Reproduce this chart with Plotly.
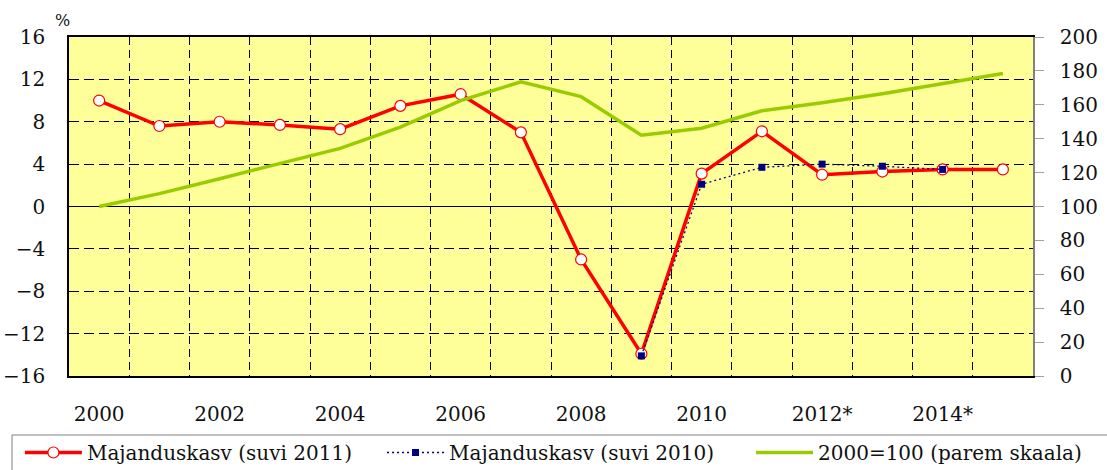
import plotly.graph_objects as go

years = list(range(2000, 2016))
growth_2011 = [10.0, 7.6, 8.0, 7.7, 7.3, 9.5, 10.6, 7.0, -5.0, -13.9, 3.1, 7.1, 3.0, 3.3, 3.5, 3.5]
growth_2010 = [None] * 9 + [-14.1, 2.1, 3.7, 4.0, 3.8, 3.5, None]
index_2000 = [100, 107.6, 116.4, 125.3, 134.3, 146.8, 162.5, 173.5, 164.8, 142.0, 146.2, 156.5, 161.2, 166.5, 172.3, 178.5]
tick_years = [2000, 2002, 2004, 2006, 2008, 2010, 2012, 2014]
tick_text = ["2000", "2002", "2004", "2006", "2008", "2010", "2012*", "2014*"]
names = ["Majanduskasv (suvi 2011)", "Majanduskasv (suvi 2010)", "2000=100 (parem skaala)"]

FONT = "DejaVu Serif"
W, H = 1107, 470

fig = go.Figure()
fig.add_trace(go.Scatter(
    x=years, y=index_2000, name=names[2], mode="lines", yaxis="y2", legend="legend3",
    line=dict(color="#99CC00", width=3.5),
))
fig.add_trace(go.Scatter(
    x=years, y=growth_2011, name=names[0], mode="lines+markers", legend="legend",
    line=dict(color="#FF0000", width=3.5),
    marker=dict(symbol="circle", size=11, color="white", line=dict(color="#FF0000", width=1.2)),
))
fig.add_trace(go.Scatter(
    x=years, y=growth_2010, name=names[1], mode="lines+markers", legend="legend2",
    line=dict(color="#000080", width=1.3, dash="2px,3px"),
    marker=dict(symbol="square", size=7, color="#000080"),
))

leg_common = dict(orientation="h", xref="container", yref="container", xanchor="left",
                  yanchor="top", y=0.0787, borderwidth=0, bgcolor="rgba(0,0,0,0)",
                  font=dict(family=FONT, size=20, color="#111111"), itemwidth=57)

fig.update_layout(
    width=W, height=H,
    margin=dict(l=69, r=74, t=37, b=94, autoexpand=False),
    paper_bgcolor="white", plot_bgcolor="#FFFF99",
    font=dict(family=FONT, size=20, color="#111111"),
    showlegend=True,
    legend=dict(x=0.0180, **leg_common),
    legend2=dict(x=0.3451, **leg_common),
    legend3=dict(x=0.6784, **leg_common),
    xaxis=dict(
        range=[1999.5, 2015.5], tickvals=tick_years, ticktext=tick_text, automargin=False,
        showgrid=False, zeroline=False, showline=True, linecolor="#000000", linewidth=1.5, mirror=True,
        ticks="", ticklabelstandoff=19,
        minor=dict(tick0=1999.5, dtick=1, showgrid=True, gridcolor="#000000", gridwidth=1, griddash="8px,5px", ticks=""),
    ),
    yaxis=dict(
        range=[-16, 16], dtick=4, tick0=0, automargin=False,
        showgrid=True, gridcolor="#000000", gridwidth=1, griddash="10px,5px",
        zeroline=True, zerolinecolor="#000000", zerolinewidth=1,
        showline=True, linecolor="#000000", linewidth=1.5, ticks="", ticklabelstandoff=18,
    ),
    yaxis2=dict(
        range=[0, 200], dtick=20, overlaying="y", side="right", showgrid=False, zeroline=False, automargin=False,
        showline=True, linecolor="#808080", linewidth=1.5, ticks="outside", ticklen=9, tickcolor="#A0A0A0",
        ticklabelstandoff=12,
    ),
    shapes=[dict(type="rect", xref="paper", yref="paper", x0=-0.0591, x1=1.12, y0=-0.31, y1=-0.174,
                 line=dict(color="#808080", width=1), fillcolor="white", layer="below")],
    annotations=[dict(text="%", xref="paper", yref="paper", x=-0.007, y=1.05, xanchor="center", yanchor="middle",
                      showarrow=False, font=dict(family=FONT, size=16, color="#111111"))],
)

fig.write_html("out.html", config={"displayModeBar": False},
               post_script="document.body.style.margin='0px';")
